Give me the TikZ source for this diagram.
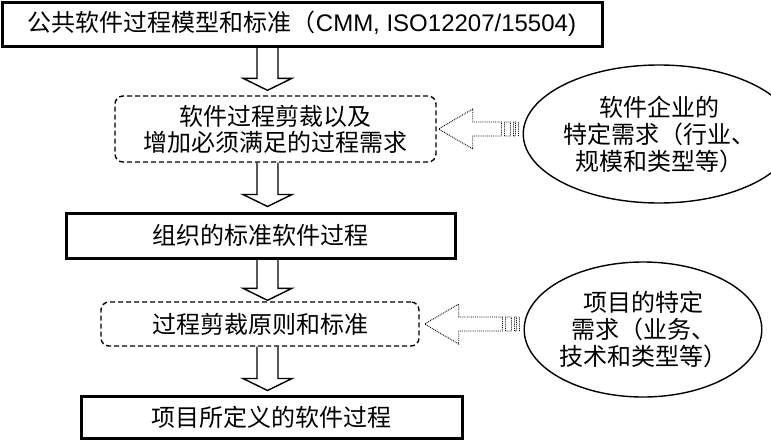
\documentclass[tikz,border=0pt]{standalone}
\usepackage{fontspec}
\setmainfont{Liberation Sans}
\newfontfamily\cjk{Noto Sans CJK SC}
\usetikzlibrary{calc, shapes.geometric}

\begin{document}
\begin{tikzpicture}[x=1pt, y=-1pt,
    box/.style={rectangle, draw, line width=3pt, inner sep=0pt, align=center,
                font=\fontsize{24}{27}\selectfont\cjk},
    dashbox/.style={rectangle, draw, line width=1.4pt, dash pattern=on 5pt off 3pt,
                rounded corners=8pt, inner sep=0pt, align=center,
                font=\fontsize{24}{26}\selectfont\cjk},
    need/.style={ellipse, draw, line width=1.4pt, inner sep=0pt, align=center,
                font=\fontsize{24}{27}\selectfont\cjk},
    bigarrow/.style={line width=1.4pt, to path={let \p1=(\tikztostart), \p2=(\tikztotarget) in
        (\x1-10.5pt,\y1) -- (\x1-10.5pt,\y2+#1+12pt) -- (\x1-24.5pt,\y2+#1+12pt) -- (\x1,\y2+#1)
        -- (\x1+24.5pt,\y2+#1+12pt) -- (\x1+10.5pt,\y2+#1+12pt) -- (\x1+10.5pt,\y1)}},
    bigarrow/.default=0pt,
    stripearrow/.style={densely dotted, line width=0.9pt, to path={let \p1=(\tikztostart), \p2=(\tikztotarget) in
        (\x1-21pt,\y2+7pt) -- (\x2+#1+34pt,\y2+7pt) -- (\x2+#1+34pt,\y2+20pt) -- (\x2+#1,\y2)
        -- (\x2+#1+34pt,\y2-20pt) -- (\x2+#1+34pt,\y2-7pt) -- (\x1-21pt,\y2-7pt) -- cycle
        (\x1-18pt,\y2-7pt) rectangle (\x1-12pt,\y2+7pt)
        (\x1-9pt,\y2-7pt) rectangle (\x1-7pt,\y2+7pt)
        (\x1-4pt,\y2-7pt) -- (\x1-4pt,\y2+7pt)}},
    stripearrow/.default=0pt
]
\useasboundingbox (0,0) rectangle (771,442);
\node (s1) [box, minimum width=600pt, minimum height=44pt] at (302,24)
    {公共软件过程模型和标准（{\rmfamily CMM, ISO12207/15504)}};
\node (s2) [dashbox, minimum width=321pt, minimum height=66pt] at (275.5,129)
    {软件过程剪裁以及\\增加必须满足的过程需求};
\node (s3) [box, minimum width=389pt, minimum height=45pt] at (260.5,235.5) {组织的标准软件过程};
\node (s4) [dashbox, minimum width=318pt, minimum height=44pt] at (260,324) {过程剪裁原则和标准};
\node (s5) [box, minimum width=381pt, minimum height=42pt] at (271.5,417) {项目所定义的软件过程};
\node (e1) [need, minimum width=222pt, minimum height=138pt] at (659,134)
    {软件企业的\\特定需求（行业、\\规模和类型等）};
\node (e2) [need, minimum width=204pt, minimum height=135pt] at (643,329.5)
    {项目的特定\\需求（业务、\\技术和类型等）};
\coordinate (ax) at (267.5,0);
\draw [bigarrow=5pt] (s1.south -| ax) to (s2.north -| ax);
\draw [bigarrow=5pt] (s2.south -| ax) to (s3.north -| ax);
\draw [bigarrow=1pt] (s3.south -| ax) to (s4.north -| ax);
\draw [bigarrow=4pt] (s4.south -| ax) to (s5.north -| ax);
\draw [stripearrow=2pt] (e1.west) to (s2.east);
\draw [stripearrow=5pt] (e2.west) to (s4.east);
\end{tikzpicture}
\end{document}
